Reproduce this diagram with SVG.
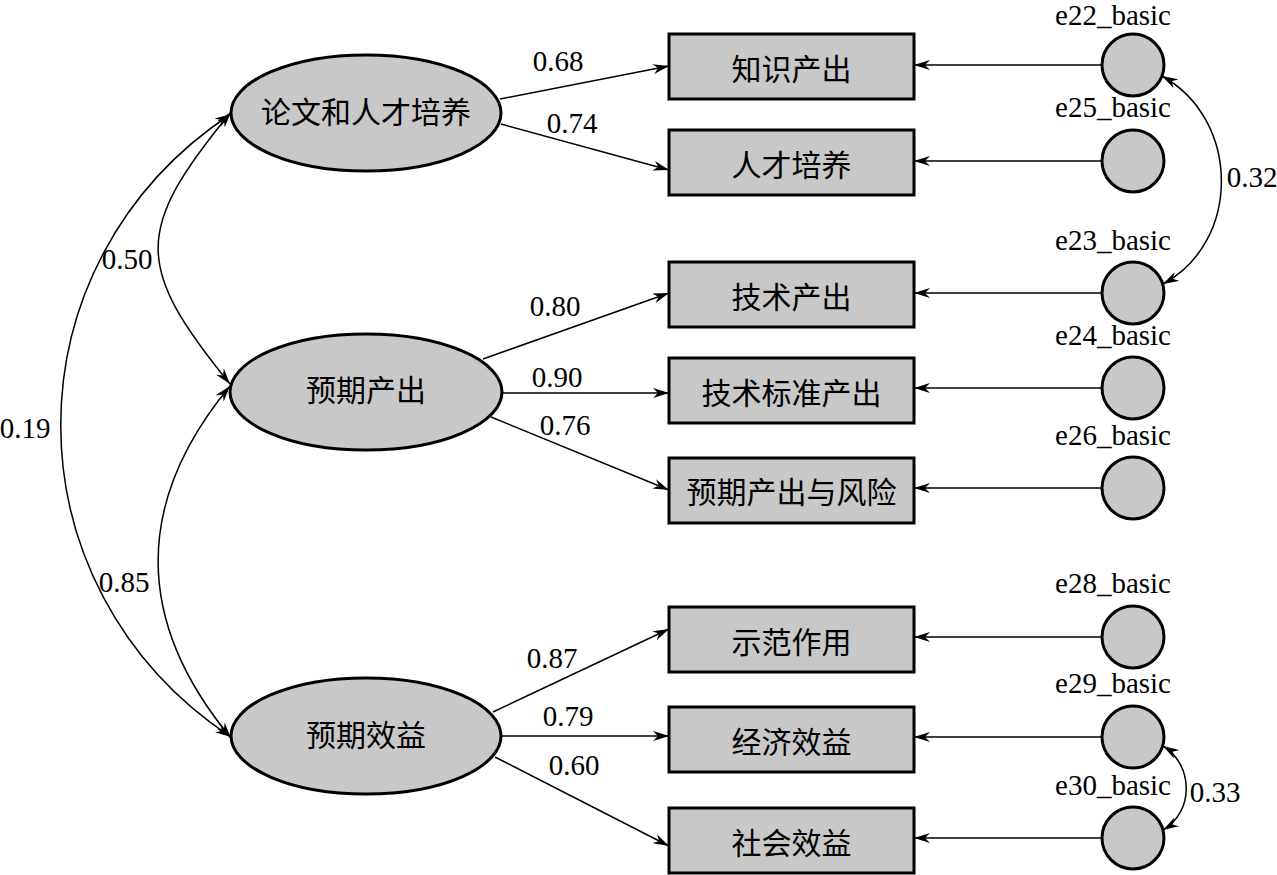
<svg xmlns="http://www.w3.org/2000/svg" width="1277" height="875" viewBox="0 0 1277 875">
<style>
.lat{fill:#c8c8c8;stroke:#000;stroke-width:3}
.obs{fill:#c8c8c8;stroke:#000;stroke-width:3}
.err{fill:#c8c8c8;stroke:#000;stroke-width:3}
.cn{fill:none;stroke:#000;stroke-width:1.5}
.zh{font-family:"Liberation Serif","Noto Sans CJK SC",serif;font-size:30px;fill:#000;text-anchor:middle}
.num{font-family:"Liberation Serif",serif;font-size:29px;fill:#000;text-anchor:middle}
.el{font-family:"Liberation Serif",serif;font-size:29px;fill:#000;text-anchor:middle}
</style>
<defs>
<marker id="a" viewBox="0 0 16 10" refX="16" refY="5" markerWidth="16" markerHeight="10" markerUnits="userSpaceOnUse" orient="auto-start-reverse">
<path d="M16,5 L0,0 L5,5 L0,10 Z" fill="#000"/>
</marker>
</defs>
<rect width="1277" height="875" fill="#fff"/>
<g id="connectors">
<line class="cn" x1="500" y1="99" x2="669" y2="66" marker-end="url(#a)"/>
<line class="cn" x1="501" y1="124" x2="669" y2="170" marker-end="url(#a)"/>
<line class="cn" x1="483" y1="359" x2="669" y2="293" marker-end="url(#a)"/>
<line class="cn" x1="502" y1="393" x2="669" y2="393" marker-end="url(#a)"/>
<line class="cn" x1="491" y1="417" x2="669" y2="490" marker-end="url(#a)"/>
<line class="cn" x1="493" y1="712" x2="669" y2="629" marker-end="url(#a)"/>
<line class="cn" x1="502" y1="736" x2="669" y2="736" marker-end="url(#a)"/>
<line class="cn" x1="495" y1="757" x2="669" y2="846" marker-end="url(#a)"/>
<line class="cn" x1="1102" y1="65" x2="914" y2="65" marker-end="url(#a)"/>
<line class="cn" x1="1102" y1="161" x2="914" y2="161" marker-end="url(#a)"/>
<line class="cn" x1="1102" y1="293" x2="914" y2="293" marker-end="url(#a)"/>
<line class="cn" x1="1102" y1="388" x2="914" y2="388" marker-end="url(#a)"/>
<line class="cn" x1="1102" y1="488" x2="914" y2="488" marker-end="url(#a)"/>
<line class="cn" x1="1102" y1="637" x2="914" y2="637" marker-end="url(#a)"/>
<line class="cn" x1="1102" y1="737" x2="914" y2="737" marker-end="url(#a)"/>
<line class="cn" x1="1102" y1="838" x2="914" y2="838" marker-end="url(#a)"/>
<path class="cn" d="M231,112 C134,230 134,266 230,384" marker-start="url(#a)" marker-end="url(#a)"/>
<path class="cn" d="M230,386 C134,502 134,621 231,738" marker-start="url(#a)" marker-end="url(#a)"/>
<path class="cn" d="M231,114 C4,264 4,586 231,737" marker-start="url(#a)" marker-end="url(#a)"/>
<path class="cn" d="M1162,76 C1241,120 1241,242 1163,284" marker-start="url(#a)" marker-end="url(#a)"/>
<path class="cn" d="M1163,746 C1194,765 1194,812 1163,830" marker-start="url(#a)" marker-end="url(#a)"/>
</g>
<g id="labels">
<text class="num" x="558" y="71">0.68</text>
<text class="num" x="572" y="133">0.74</text>
<text class="num" x="555" y="316">0.80</text>
<text class="num" x="557" y="387">0.90</text>
<text class="num" x="565" y="435">0.76</text>
<text class="num" x="552" y="668">0.87</text>
<text class="num" x="568" y="726">0.79</text>
<text class="num" x="574" y="775">0.60</text>
<text class="num" x="127" y="269">0.50</text>
<text class="num" x="124" y="592">0.85</text>
<text class="num" x="25" y="438">0.19</text>
<text class="num" x="1252" y="187">0.32</text>
<text class="num" x="1215" y="802">0.33</text>
</g>
<g id="f1"><ellipse class="lat" cx="366" cy="113" rx="135" ry="58"/><text class="zh" x="366" y="123">论文和人才培养</text></g>
<g id="f2"><ellipse class="lat" cx="366" cy="392" rx="136" ry="58"/><text class="zh" x="366" y="401">预期产出</text></g>
<g id="f3"><ellipse class="lat" cx="366" cy="736" rx="135" ry="58"/><text class="zh" x="366" y="746">预期效益</text></g>
<g id="v1"><rect class="obs" x="669" y="34" width="245" height="65"/><text class="zh" x="791.5" y="80">知识产出</text></g>
<g id="v2"><rect class="obs" x="669" y="130" width="245" height="65"/><text class="zh" x="791.5" y="176">人才培养</text></g>
<g id="v3"><rect class="obs" x="669" y="262" width="245" height="65"/><text class="zh" x="791.5" y="308">技术产出</text></g>
<g id="v4"><rect class="obs" x="669" y="358" width="245" height="65"/><text class="zh" x="791.5" y="404">技术标准产出</text></g>
<g id="v5"><rect class="obs" x="669" y="458" width="245" height="65"/><text class="zh" x="791.5" y="503">预期产出与风险</text></g>
<g id="v6"><rect class="obs" x="669" y="607" width="245" height="65"/><text class="zh" x="791.5" y="653">示范作用</text></g>
<g id="v7"><rect class="obs" x="669" y="707" width="245" height="65"/><text class="zh" x="791.5" y="753">经济效益</text></g>
<g id="v8"><rect class="obs" x="669" y="808" width="245" height="65"/><text class="zh" x="791.5" y="854">社会效益</text></g>
<g id="e22"><circle class="err" cx="1133" cy="65" r="31"/><text class="el" x="1113" y="25">e22_basic</text></g>
<g id="e25"><circle class="err" cx="1133" cy="161" r="31"/><text class="el" x="1113" y="117">e25_basic</text></g>
<g id="e23"><circle class="err" cx="1133" cy="293" r="31"/><text class="el" x="1113" y="250">e23_basic</text></g>
<g id="e24"><circle class="err" cx="1133" cy="388" r="31"/><text class="el" x="1113" y="345">e24_basic</text></g>
<g id="e26"><circle class="err" cx="1133" cy="488" r="31"/><text class="el" x="1113" y="445">e26_basic</text></g>
<g id="e28"><circle class="err" cx="1133" cy="637" r="31"/><text class="el" x="1113" y="593">e28_basic</text></g>
<g id="e29"><circle class="err" cx="1133" cy="737" r="31"/><text class="el" x="1113" y="693">e29_basic</text></g>
<g id="e30"><circle class="err" cx="1133" cy="838" r="31"/><text class="el" x="1113" y="795">e30_basic</text></g>
</svg>
